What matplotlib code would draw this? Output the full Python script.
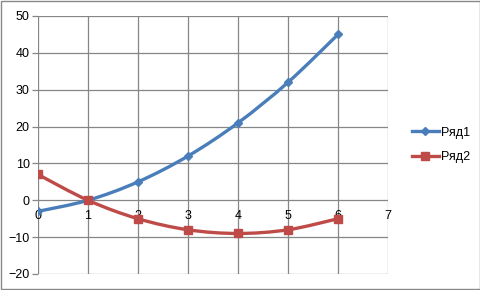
import matplotlib.pyplot as plt
import numpy as np
from matplotlib.path import Path
from matplotlib.patches import PathPatch, Rectangle

x = [0, 1, 2, 3, 4, 5, 6]
ryad1 = [-3, 0, 5, 12, 21, 32, 45]
ryad2 = [7, 0, -5, -8, -9, -8, -5]
names = ['Ряд1', 'Ряд2']
colors = ['#4A7EBB', '#BE4B48']
markers = ['D', 's']
msizes = [4.5, 6]
xticks = list(range(0, 8))
yticks = list(range(-20, 51, 10))

plt.rcParams['font.family'] = ['Liberation Sans', 'DejaVu Sans']


def smooth_path(xs, ys, t=1 / 6):
    # Excel-like smoothed line: cubic bezier through the points
    pts = np.column_stack([xs, ys]).astype(float)
    verts = [pts[0]]
    codes = [Path.MOVETO]
    n = len(pts)
    for i in range(n - 1):
        p0 = pts[i - 1] if i > 0 else pts[i]
        p1 = pts[i]
        p2 = pts[i + 1]
        p3 = pts[i + 2] if i + 2 < n else pts[i + 1]
        c1 = p1 + (p2 - p0) * t
        c2 = p2 - (p3 - p1) * t
        verts += [c1, c2, p2]
        codes += [Path.CURVE4] * 3
    return Path(verts, codes)


fig = plt.figure(figsize=(4.81, 2.90), dpi=100)
ax = fig.add_axes([38 / 481, 16 / 290, 350 / 481, 258 / 290])

grid_c = '#868686'
ax.set_xlim(0, 7)
ax.set_ylim(-20, 50)
ax.set_yticks(yticks)
ax.set_xticks(xticks)
ax.grid(True, color=grid_c, lw=0.9)
ax.set_axisbelow(True)
for s in ['top', 'right', 'left']:
    ax.spines[s].set_visible(False)
ax.spines['bottom'].set_position(('data', 0))
ax.spines['bottom'].set_visible(False)
ax.tick_params(axis='y', length=4, color=grid_c, width=0.9, pad=2, labelsize=9)
ax.tick_params(axis='x', length=0, pad=7, labelsize=9)
for lbl in ax.get_xticklabels():
    lbl.set_zorder(6)

handles = []
for ys, name, c, m, ms in zip([ryad1, ryad2], names, colors, markers, msizes):
    ax.add_patch(PathPatch(smooth_path(x, ys), fc='none', ec=c, lw=2.4, zorder=3))
    h, = ax.plot(x, ys, ls='none', marker=m, ms=ms, color=c, mec=c, zorder=4)
    lh, = ax.plot([], [], color=c, lw=2.4, marker=m, ms=ms, mec=c, label=name)
    handles.append(lh)

ax.legend(handles=handles, loc='center left', bbox_to_anchor=(1.035, 0.5),
          frameon=False, fontsize=9, handlelength=2.2, handletextpad=0.2,
          labelspacing=1.0)

fig.patches.append(Rectangle((0.5 / 481, 1 / 290), 1 - 1.5 / 481, 1 - 2 / 290,
                             transform=fig.transFigure, fill=False,
                             ec='#888888', lw=1))

fig.savefig('out.png', dpi=100)
